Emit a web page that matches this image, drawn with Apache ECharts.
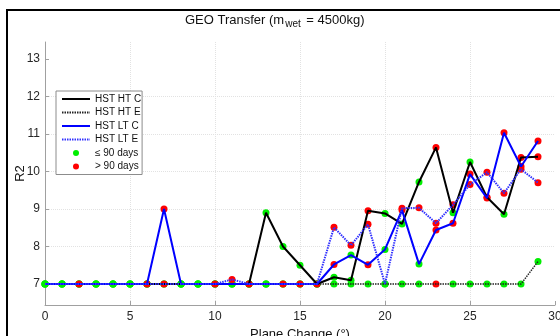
<!DOCTYPE html>
<html><head><meta charset="utf-8">
<script src="https://cdn.jsdelivr.net/npm/echarts@6/dist/echarts.min.js"></script>
<style>html,body{margin:0;padding:0;background:#fff}#c{width:560px;height:336px}</style>
</head><body><div id="c"></div>
<script>
const planeChange = [0,1,2,3,4,5,6,7,8,9,10,11,12,13,14,15,16,17,18,19,20,21,22,23,24,25,26,27,28,29];
const hstHtC = [7,7,7,7,7,7,7,7,7,7,7,7,7,8.9,8.0,7.5,7,7.18,7.1,8.95,8.88,8.6,9.72,10.64,8.9,10.25,9.31,8.86,10.37,10.39];
const hstHtE = [7,7,7,7,7,7,7,7,7,7,7,7,7,7,7,7,7,7,7,7,7,7,7,7,7,7,7,7,7,7.6];
const hstLtC = [7,7,7,7,7,7,7,9,7,7,7,7,7,7,7,7,7,7.52,7.77,7.51,7.92,8.97,7.53,8.44,8.62,9.93,9.29,11.03,10.13,10.81];
const hstLtE = [7,7,7,7,7,7,7,7,7,7,7,7.12,7,7,7,7,7,8.51,8.03,8.59,7.0,9.02,9.03,8.62,9.11,9.65,9.98,9.42,10.06,9.7];
// 1 = > 90 days, 0 = <= 90 days
const htCLong = [0,0,0,0,0,0,0,0,0,0,0,0,1,0,0,0,1,0,0,1,0,0,0,1,0,0,1,0,1,1];
const htELong = [0,0,0,0,0,0,0,0,0,0,0,0,0,0,0,0,0,0,0,0,0,0,0,1,0,0,0,0,0,0];
const ltCLong = [0,0,1,0,0,0,1,1,0,0,1,0,0,0,1,1,0,1,0,1,0,1,0,1,1,1,1,1,1,1];
const ltELong = [0,0,0,0,0,0,0,1,0,0,0,1,0,0,0,0,0,1,1,1,0,1,1,1,1,1,1,1,1,1];
const xTicks = [0,5,10,15,20,25,30];
const yTicks = [7,8,9,10,11,12,13];
const seriesNames = ['HST HT C','HST HT E','HST LT C','HST LT E'];

const allVals = [hstHtC, hstHtE, hstLtC, hstLtE];
const allFlags = [htCLong, htELong, ltCLong, ltELong];
const shortPts = [], longPts = [];
allVals.forEach((vals, s) => {
  vals.forEach((v, i) => {
    (allFlags[s][i] ? longPts : shortPts).push([planeChange[i], v]);
  });
});
const pair = vals => planeChange.map((x, i) => [x, vals[i]]);

const chart = echarts.init(document.getElementById('c'), null, {renderer: 'canvas'});
const font = 'Liberation Sans, Arial, sans-serif';
chart.setOption({
  animation: false,
  backgroundColor: '#fff',
  textStyle: {fontFamily: font},
  title: {
    text: '{a|GEO Transfer (m}{s|wet}{a| = 4500kg)}',
    left: 180, top: 6,
    textStyle: {
      fontWeight: 'normal',
      rich: {
        a: {fontSize: 13, color: '#111', fontFamily: font, fontWeight: 'normal', lineHeight: 18},
        s: {fontSize: 10, color: '#111', fontFamily: font, fontWeight: 'normal', lineHeight: 18, padding: [9, 2, 0, 1]}
      }
    }
  },
  graphic: [{
    type: 'rect', shape: {x: 7, y: 10, width: 700, height: 500},
    style: {fill: 'none', stroke: '#000', lineWidth: 2}, silent: true, z: 100
  }],
  legend: {
    orient: 'vertical', left: 56, top: 91,
    backgroundColor: '#fff', borderColor: '#8c8c8c', borderWidth: 1,
    padding: [3, 1, 3, 5],
    itemWidth: 28, itemHeight: 6, itemGap: 3.5,
    textStyle: {fontSize: 10, color: '#111', fontFamily: font},
    data: seriesNames.map(n => ({name: n, itemStyle: {opacity: 0}})).concat([{name: '≤ 90 days'}, {name: '> 90 days'}])
  },
  grid: {left: 45, right: 5, top: 42, bottom: 31, outerBoundsMode: 'none', containLabel: false},
  xAxis: {
    type: 'value', min: 0, max: 30, interval: 5,
    name: 'Plane Change (°)', nameLocation: 'middle', nameGap: 20,
    nameTextStyle: {fontSize: 13, color: '#111', fontFamily: font},
    axisLine: {show: true, lineStyle: {color: '#a0a0a0', width: 1}},
    axisTick: {show: true, inside: true, length: 4, lineStyle: {color: '#a0a0a0'}},
    axisLabel: {fontSize: 12, color: '#262626', margin: 6, fontFamily: font},
    splitLine: {show: true, showMinLine: false, showMaxLine: false, lineStyle: {color: '#e2e2e2', type: 'dotted', width: 1}}
  },
  yAxis: {
    type: 'value', min: 6.44, max: 13.45, splitNumber: 7,
    name: 'R2', nameLocation: 'middle', nameGap: 18, nameMoveOverlap: false,
    nameTextStyle: {fontSize: 13, color: '#111', fontFamily: font},
    axisLine: {show: true, lineStyle: {color: '#a0a0a0', width: 1}},
    axisTick: {show: true, inside: true, length: 4, lineStyle: {color: '#a0a0a0'}, customValues: yTicks},
    axisLabel: {fontSize: 12, color: '#262626', margin: 5, fontFamily: font, customValues: yTicks},
    splitLine: {show: true, showMinLine: false, showMaxLine: false, lineStyle: {color: '#e2e2e2', type: 'dotted', width: 1}}
  },
  series: [
    {name: seriesNames[0], type: 'line', data: pair(hstHtC), symbol: 'none', lineStyle: {color: '#000', width: 2}, itemStyle: {color: '#000'}},
    {name: seriesNames[1], type: 'line', data: pair(hstHtE), symbol: 'none', lineStyle: {color: '#222', width: 1.5, type: [1.5, 1]}, itemStyle: {color: '#222'}},
    {name: seriesNames[2], type: 'line', data: pair(hstLtC), symbol: 'none', lineStyle: {color: '#0000ff', width: 2}, itemStyle: {color: '#0000ff'}},
    {name: seriesNames[3], type: 'line', data: pair(hstLtE), symbol: 'none', lineStyle: {color: '#3030ff', width: 2, type: [1.5, 1]}, itemStyle: {color: '#3030ff'}},
    {name: '≤ 90 days', type: 'scatter', data: shortPts, symbol: 'circle', symbolSize: 7, itemStyle: {color: '#00ee00', opacity: 1}},
    {name: '> 90 days', type: 'scatter', data: longPts, symbol: 'circle', symbolSize: 7, itemStyle: {color: '#ff0000', opacity: 1}}
  ]
});
</script></body></html>
